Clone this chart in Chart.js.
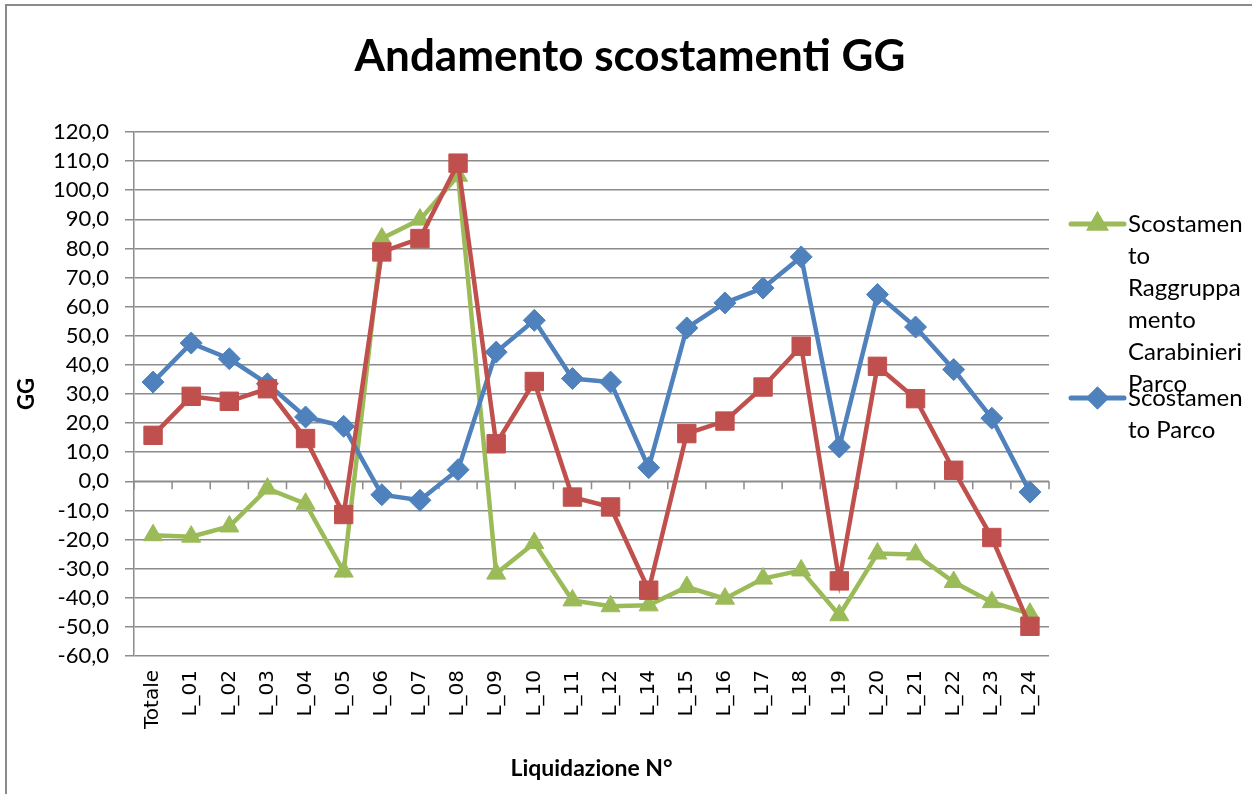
<!DOCTYPE html>
<html>
<head>
<meta charset="utf-8">
<title>Andamento scostamenti GG</title>
<script src="https://cdn.jsdelivr.net/npm/chart.js@4.4.0/dist/chart.umd.min.js"></script>
<style>
  html, body { margin: 0; padding: 0; background: #fff; }
  #wrap { width: 1252px; height: 794px; position: relative; }
</style>
</head>
<body>
<div id="wrap"><canvas id="chart" width="1252" height="794"></canvas></div>
<script>
// Categories (Liquidazione N°)
const categories = ['Totale', 'L_01', 'L_02', 'L_03', 'L_04', 'L_05', 'L_06', 'L_07', 'L_08', 'L_09',
  'L_10', 'L_11', 'L_12', 'L_14', 'L_15', 'L_16', 'L_17', 'L_18', 'L_19', 'L_20', 'L_21', 'L_22', 'L_23', 'L_24'];

// Scostamento Raggruppamento Carabinieri Parco (green)
const scostRaggruppamento = [-18.5, -19.0, -15.5, -2.5, -7.7, -31.0, 83.4, 89.9, 105.0, -31.7,
  -21.2, -40.9, -42.9, -42.6, -36.3, -40.3, -33.4, -30.6, -46.0, -24.8, -25.1, -34.6, -41.5, -45.5];

// Scostamento Parco (blue)
const scostParco = [34.1, 47.5, 42.1, 33.5, 22.1, 18.9, -4.6, -6.5, 4.0, 44.4,
  55.3, 35.3, 34.1, 4.7, 52.7, 61.3, 66.4, 77.1, 11.8, 64.2, 53.0, 38.4, 21.7, -3.7];

// third series (red, no legend entry visible)
const scostTerzo = [15.8, 29.2, 27.5, 31.8, 14.7, -11.4, 78.8, 83.4, 109.3, 12.9,
  34.3, -5.4, -8.8, -37.4, 16.4, 20.7, 32.4, 46.4, -34.2, 39.5, 28.4, 3.8, -19.3, -49.8];

const yTicks = { min: -60, max: 120, step: 10 };

const chartTitle = 'Andamento scostamenti GG';
const legendLines = [
  ['Scostamen', 'to', 'Raggruppa', 'mento', 'Carabinieri', 'Parco'],
  ['Scostamen', 'to Parco']
];

const GREEN = '#9BBB59', BLUE = '#4F81BD', RED = '#C0504D';
const GRID = '#8c8c8c';

// outer frame (top + left edges only) and the title centred on the page
const framePlugin = {
  id: 'frame',
  beforeDraw(chart) {
    const ctx = chart.ctx;
    ctx.save();
    ctx.strokeStyle = '#8a8a8a';
    ctx.lineWidth = 2;
    ctx.beginPath();
    ctx.moveTo(6, chart.height);
    ctx.lineTo(6, 5);
    ctx.lineTo(chart.width, 5);
    ctx.stroke();
    ctx.fillStyle = '#000';
    ctx.font = 'bold 44px Lato';
    ctx.textAlign = 'center';
    ctx.textBaseline = 'middle';
    ctx.fillText(chartTitle, 630, 57);
    ctx.restore();
  }
};

// category tick marks hanging from the zero line
const zeroTicksPlugin = {
  id: 'zeroTicks',
  beforeDatasetsDraw(chart) {
    const x = chart.scales.x, y = chart.scales.y;
    const y0 = y.getPixelForValue(0);
    const ctx = chart.ctx;
    ctx.save();
    ctx.strokeStyle = GRID;
    ctx.lineWidth = 1.5;
    ctx.beginPath();
    ctx.moveTo(x.left, y0);
    ctx.lineTo(x.right, y0);
    for (let i = 0; i <= categories.length; i++) {
      const px = i < categories.length
        ? x.getPixelForValue(i) - (x.getPixelForValue(1) - x.getPixelForValue(0)) / 2
        : x.right;
      ctx.moveTo(px, y0);
      ctx.lineTo(px, y0 + 8);
    }
    ctx.stroke();
    ctx.restore();
  }
};

// legend on the right with wrapped text
const sideLegendPlugin = {
  id: 'sideLegend',
  afterDraw(chart) {
    const ctx = chart.ctx;
    const items = [
      { ds: chart.data.datasets[1], lines: legendLines[0], y: 224 },
      { ds: chart.data.datasets[2], lines: legendLines[1], y: 398 }
    ];
    ctx.save();
    items.forEach(it => {
      const x0 = 1071, x1 = 1124;
      ctx.strokeStyle = it.ds.borderColor;
      ctx.lineWidth = 5;
      ctx.lineCap = 'round';
      ctx.beginPath();
      ctx.moveTo(x0, it.y);
      ctx.lineTo(x1, it.y);
      ctx.stroke();
      Chart.helpers.drawPoint(ctx, {
        pointStyle: it.ds.pointStyle,
        radius: 8,
        borderWidth: 1
      }, (x0 + x1) / 2, it.y);
      ctx.fillStyle = it.ds.pointBackgroundColor;
      ctx.strokeStyle = it.ds.pointBorderColor;
      ctx.fill();
      ctx.stroke();
      ctx.fillStyle = '#000';
      ctx.font = '24px Lato';
      ctx.textBaseline = 'middle';
      ctx.textAlign = 'left';
      it.lines.forEach((t, i) => ctx.fillText(t, 1128, it.y + i * 32));
    });
    ctx.restore();
  }
};

new Chart(document.getElementById('chart'), {
  type: 'line',
  data: {
    labels: categories,
    datasets: [
      {
        label: 'Scostamento 3',
        data: scostTerzo,
        borderColor: RED,
        borderWidth: 4.5,
        pointStyle: 'rect',
        pointRadius: 13,
        pointBackgroundColor: RED,
        pointBorderColor: RED,
        pointBorderWidth: 1,
        tension: 0,
        order: 0
      },
      {
        label: 'Scostamento Raggruppamento Carabinieri Parco',
        data: scostRaggruppamento,
        borderColor: GREEN,
        borderWidth: 4.5,
        pointStyle: 'triangle',
        pointRadius: 11,
        pointBackgroundColor: GREEN,
        pointBorderColor: GREEN,
        pointBorderWidth: 1,
        tension: 0,
        order: 2
      },
      {
        label: 'Scostamento Parco',
        data: scostParco,
        borderColor: BLUE,
        borderWidth: 4.5,
        pointStyle: 'rectRot',
        pointRadius: 11,
        pointBackgroundColor: BLUE,
        pointBorderColor: BLUE,
        pointBorderWidth: 1,
        tension: 0,
        order: 1
      }
    ]
  },
  options: {
    responsive: false,
    animation: false,
    layout: { padding: { left: 8, right: 203, top: 132, bottom: 8 } },
    plugins: {
      legend: { display: false },
      tooltip: { enabled: false },
      title: { display: false }
    },
    scales: {
      x: {
        offset: true,
        grid: { display: false, drawTicks: false },
        border: { display: false },
        ticks: {
          color: '#000',
          font: { family: 'DejaVu Sans', size: 20 },
          minRotation: 90,
          maxRotation: 90,
          autoSkip: false,
          padding: 14
        },
        title: {
          display: true,
          text: 'Liquidazione N°',
          color: '#000',
          font: { family: 'Lato', size: 23, weight: 'bold' },
          padding: { top: 0, bottom: 4 }
        },
        afterFit(scale) { scale.height = 130; }
      },
      y: {
        min: yTicks.min,
        max: yTicks.max,
        grid: { color: GRID, lineWidth: 1.5, tickLength: 9 },
        border: { color: GRID, width: 1.5 },
        ticks: {
          stepSize: yTicks.step,
          autoSkip: false,
          color: '#000',
          padding: 16,
          font: { family: 'Lato', size: 22, lineHeight: 1 },
          callback: v => v.toFixed(1).replace('.', ',')
        },
        title: {
          display: true,
          text: 'GG',
          color: '#000',
          font: { family: 'Lato', size: 22, weight: 'bold' },
          padding: { top: 6, bottom: 0 }
        },
        afterFit(scale) { scale.width = 126; }
      }
    }
  },
  plugins: [framePlugin, zeroTicksPlugin, sideLegendPlugin]
});
</script>
</body>
</html>
